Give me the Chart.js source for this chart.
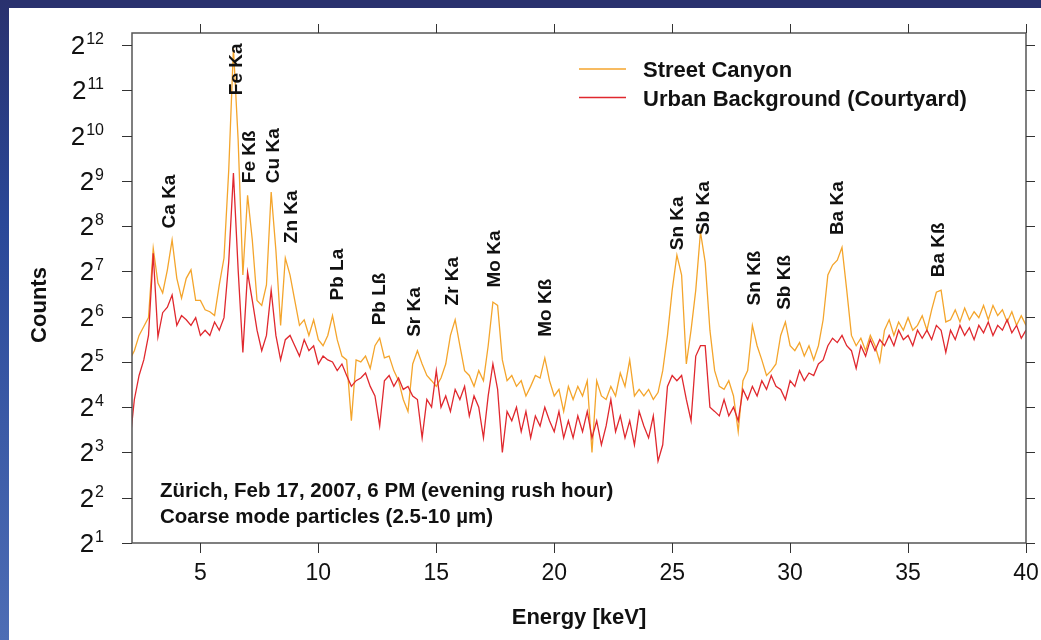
<!DOCTYPE html>
<html>
<head>
<meta charset="utf-8">
<script src="https://cdn.jsdelivr.net/npm/chart.js@4.4.1/dist/chart.umd.min.js"></script>
<style>
  body { margin: 0; background: #fff; }
  #slide { position: relative; width: 1041px; height: 640px; overflow: hidden; background: #fff; }
  #myChart { position: absolute; left: 0; top: 0; }
  #bandTop { position: absolute; left: 0; top: 0; width: 1041px; height: 8px; background: #29316e; }
  #bandLeft { position: absolute; left: 0; top: 0; width: 9px; height: 640px; background: linear-gradient(#29316e, #2a4898 35%, #4d6db5); }
</style>
</head>
<body>
<div id="slide">
  <canvas id="myChart" width="1041" height="640"></canvas>
  <div id="bandTop"></div>
  <div id="bandLeft"></div>
</div>
<script>
// counts per 0.2 keV channel, starting at 2.0 keV
const streetCanyon = [
  33, 38, 48, 55, 63,
  182, 107, 92, 131, 207,
  115, 85, 115, 131, 82,
  82, 71, 69, 65, 104,
  157, 600, 3900, 955, 121,
  410, 207, 82, 76, 104,
  431, 177, 56, 157, 121,
  82, 56, 61, 48, 61,
  45, 41, 48, 65, 45,
  35, 33, 13, 33, 32,
  35, 29, 41, 46, 34,
  35, 28, 24, 18, 15,
  31, 38, 31, 26, 24,
  22, 25, 31, 48, 61,
  41, 28, 26, 22, 28,
  24, 41, 80, 76, 33,
  24, 26, 22, 24, 19,
  22, 26, 25, 34, 24,
  19, 21, 15, 22, 18,
  22, 19, 24, 8, 24,
  19, 18, 22, 19, 27,
  22, 33, 19, 21, 19,
  21, 18, 20, 28, 48,
  96, 164, 121, 31, 52,
  96, 234, 147, 52, 28,
  22, 21, 24, 19, 11,
  24, 28, 56, 41, 33,
  26, 28, 31, 48, 59,
  41, 38, 43, 35, 41,
  33, 41, 61, 121, 141,
  152, 185, 96, 48, 41,
  46, 38, 48, 41, 32,
  52, 61, 48, 59, 52,
  63, 52, 56, 65, 52,
  71, 93, 96, 59, 61,
  71, 59, 73, 61, 69,
  63, 76, 61, 76, 65,
  71, 59, 69, 56, 65,
  56
];

const urbanBackground = [
  9, 18, 26, 33, 48,
  169, 47, 68, 74, 89,
  56, 65, 61, 56, 63,
  48, 52, 48, 59, 52,
  63, 147, 576, 131, 37,
  126, 82, 52, 38, 48,
  96, 48, 33, 45, 48,
  41, 35, 45, 38, 41,
  31, 35, 33, 32, 28,
  31, 26, 22, 24, 25,
  27, 22, 19, 12, 24,
  26, 22, 25, 21, 22,
  19, 18, 10, 18, 16,
  28, 16, 19, 15, 21,
  18, 22, 14, 19, 16,
  10, 19, 31, 21, 8,
  15, 13, 16, 11, 15,
  10, 14, 12, 16, 13,
  11, 15, 10, 13, 10,
  14, 11, 15, 10, 13,
  9, 12, 18, 11, 14,
  10, 13, 9, 15, 12,
  10, 14, 7, 9, 22,
  26, 24, 26, 18, 13,
  35, 41, 41, 16, 15,
  14, 18, 14, 16, 13,
  21, 18, 22, 19, 24,
  21, 26, 22, 21, 18,
  24, 22, 28, 24, 27,
  26, 31, 33, 41, 46,
  43, 48, 41, 38, 29,
  41, 35, 45, 38, 45,
  41, 48, 41, 52, 45,
  48, 41, 52, 46, 52,
  45, 56, 52, 37, 52,
  45, 56, 48, 54, 45,
  56, 50, 59, 48, 56,
  52, 61, 50, 56, 46,
  52
];

const energies = streetCanyon.map((_, i) => Math.round((2.0 + i * 0.2) * 10) / 10);

const xTicks = [5, 10, 15, 20, 25, 30, 35, 40];
const yExponents = [1, 2, 3, 4, 5, 6, 7, 8, 9, 10, 11, 12];

const peakNames = ["Ca Ka", "Fe Ka", "Fe Kß", "Cu Ka", "Zn Ka", "Pb La", "Pb Lß", "Sr Ka", "Zr Ka",
  "Mo Ka", "Mo Kß", "Sn Ka", "Sb Ka", "Sn Kß", "Sb Kß", "Ba Ka", "Ba Kß"];
const peakEnergies = [3.71, 6.53, 7.1, 8.1, 8.88, 10.81, 12.61, 14.09, 15.68,
  17.48, 19.62, 25.24, 26.34, 28.5, 29.77, 32.02, 36.32];
// counts level where each rotated label starts
const peakLabelBase = [247, 1900, 494, 494, 197, 82, 56, 47, 76,
  100, 47, 177, 223, 76, 71, 223, 117];

const seriesNames = ["Street Canyon", "Urban Background (Courtyard)"];
const seriesColors = ["#f4a52c", "#e0282e"];
const noteLines = ["Zürich, Feb 17, 2007, 6 PM (evening rush hour)", "Coarse mode particles (2.5-10 µm)"];

const FONT = '"Liberation Sans", Arial, sans-serif';

const decoracion = {
  id: "decoracion",
  afterDatasetsDraw(chart) {
    const ctx = chart.ctx;
    const xs = chart.scales.x;
    const ys = chart.scales.y;
    const a = chart.chartArea;
    ctx.save();

    // peak labels
    ctx.fillStyle = "#111";
    ctx.font = "bold 19px " + FONT;
    ctx.textAlign = "left";
    ctx.textBaseline = "middle";
    peakNames.forEach((name, i) => {
      ctx.save();
      ctx.translate(xs.getPixelForValue(peakEnergies[i]), ys.getPixelForValue(peakLabelBase[i]));
      ctx.rotate(-Math.PI / 2);
      ctx.fillText(name, 0, 0);
      ctx.restore();
    });

    // frame and ticks
    ctx.strokeStyle = "#555";
    ctx.lineWidth = 1.5;
    ctx.strokeRect(a.left, a.top, a.right - a.left, a.bottom - a.top);
    ctx.strokeStyle = "#333";
    ctx.lineWidth = 1;
    ctx.beginPath();
    xTicks.forEach((v) => {
      const px = Math.round(xs.getPixelForValue(v)) + 0.5;
      ctx.moveTo(px, a.bottom);
      ctx.lineTo(px, a.bottom + 10);
      ctx.moveTo(px, a.top);
      ctx.lineTo(px, a.top - 9);
    });
    yExponents.forEach((n) => {
      const py = Math.round(ys.getPixelForValue(2 ** n)) + 0.5;
      ctx.moveTo(a.left, py);
      ctx.lineTo(a.left - 10, py);
      ctx.moveTo(a.right, py);
      ctx.lineTo(a.right + 9, py);
    });
    ctx.stroke();

    // x tick labels
    ctx.fillStyle = "#111";
    ctx.font = "23px " + FONT;
    ctx.textAlign = "center";
    ctx.textBaseline = "alphabetic";
    xTicks.forEach((v) => ctx.fillText(String(v), xs.getPixelForValue(v), 580));

    // y tick labels 2^n
    ctx.textAlign = "right";
    yExponents.forEach((n) => {
      const py = ys.getPixelForValue(2 ** n);
      ctx.font = "16px " + FONT;
      const expW = ctx.measureText(String(n)).width;
      ctx.fillText(String(n), 104, py - 1);
      ctx.font = "26px " + FONT;
      ctx.fillText("2", 104 - expW - 1, py + 9);
    });

    // axis titles
    ctx.font = "bold 22px " + FONT;
    ctx.textAlign = "center";
    ctx.fillText("Energy [keV]", (a.left + a.right) / 2, 624);
    ctx.save();
    ctx.translate(46, 305);
    ctx.rotate(-Math.PI / 2);
    ctx.fillText("Counts", 0, 0);
    ctx.restore();

    // legend
    ctx.font = "bold 22px " + FONT;
    ctx.textAlign = "left";
    seriesNames.forEach((name, i) => {
      const y = 69 + i * 28.5;
      ctx.strokeStyle = seriesColors[i];
      ctx.lineWidth = 1.3;
      ctx.beginPath();
      ctx.moveTo(579, y);
      ctx.lineTo(626, y);
      ctx.stroke();
      ctx.fillText(name, 643, y + 8);
    });

    // note
    ctx.font = "bold 20.5px " + FONT;
    noteLines.forEach((t, i) => ctx.fillText(t, 160, 497 + i * 26));

    ctx.restore();
  }
};

new Chart(document.getElementById("myChart"), {
  type: "line",
  data: {
    datasets: [
      {
        label: seriesNames[0],
        data: energies.map((e, i) => ({ x: e, y: streetCanyon[i] })),
        borderColor: seriesColors[0],
        borderWidth: 1.3,
        pointRadius: 0,
        tension: 0,
        order: 2
      },
      {
        label: seriesNames[1],
        data: energies.map((e, i) => ({ x: e, y: urbanBackground[i] })),
        borderColor: seriesColors[1],
        borderWidth: 1.3,
        pointRadius: 0,
        tension: 0,
        order: 1
      }
    ]
  },
  options: {
    responsive: false,
    animation: false,
    devicePixelRatio: 1,
    layout: { padding: { left: 132, top: 33, right: 15, bottom: 97 } },
    plugins: { legend: { display: false }, tooltip: { enabled: false } },
    scales: {
      x: { type: "linear", min: 2.1, max: 40, display: false },
      y: { type: "logarithmic", min: 2, max: 4922, display: false }
    }
  },
  plugins: [decoracion]
});
</script>
</body>
</html>
